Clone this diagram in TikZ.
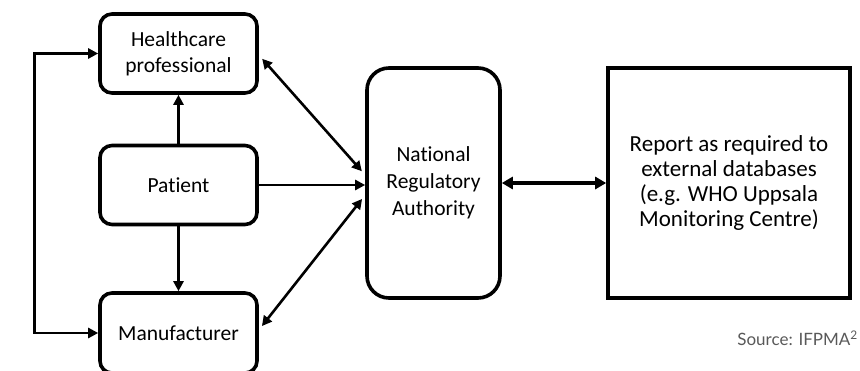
\documentclass[tikz,border=0pt]{standalone}
\usepackage{fontspec}
\setmainfont{Carlito}[Ligatures=NoCommon]
\newfontfamily\srcfont{Lato}
\usetikzlibrary{arrows.meta}
\definecolor{srcgrey}{HTML}{595959}
\begin{document}
\begin{tikzpicture}[x=1pt,y=-1pt,
  box/.style={draw=black,line width=3.6pt,rounded corners=12pt,minimum width=157pt,minimum height=79pt,align=center,font=\fontsize{21.5}{26}\selectfont,inner sep=0pt},
  bigbox/.style={draw=black,line width=3.6pt,align=center,inner sep=0pt,minimum width=133pt,minimum height=230pt},
  conn/.style={line width=2.6pt,-{Triangle[length=10pt,width=10pt]}},
  dconn/.style={line width=2.6pt,{Triangle[length=10pt,width=10pt]}-{Triangle[length=10pt,width=10pt]}}
]
\useasboundingbox (0,0) rectangle (860,370);
\clip (0,0) rectangle (860,370);
\node[box] (hp) at (178.5,53.5) {Healthcare\\professional};
\node[box] (pat) at (178.5,185) {Patient};
\node[box,minimum height=80pt] (man) at (178.5,333) {Manufacturer};
\node[bigbox,rounded corners=22pt,font=\fontsize{21.5}{27}\selectfont] (nra) at (433.5,183) {National\\Regulatory\\Authority};
\node[bigbox,minimum width=242pt,font=\fontsize{23}{25}\selectfont] (rep) at (729,183) {Report as required to\\external databases\\(e.g. WHO Uppsala\\Monitoring Centre)};
\node[anchor=east,text=srcgrey,font=\srcfont\fontsize{17}{20}\selectfont,inner sep=0pt] (src) at (858,338) {Source: IFPMA\textsuperscript{2}};
\draw[dconn] (hp.west) -- ++(-64,0) |- (man.west);
\draw[conn] (pat.north) -- (hp.south);
\draw[conn] (pat.south) -- (man.north);
\draw[conn] (pat.east) -- (pat.east -| nra.west);
\draw[dconn,shorten <=5pt,shorten >=5pt] ([yshift=-1.5pt]hp.east) -- ([yshift=8pt]nra.west);
\draw[dconn,shorten <=5pt,shorten >=5pt] ([yshift=3pt]man.east) -- ([yshift=-12pt]nra.west);
\draw[line width=4.5pt,{Triangle[length=11pt,width=12pt]}-{Triangle[length=11pt,width=12pt]}] (nra.east) -- (rep.west);
\end{tikzpicture}
\end{document}
